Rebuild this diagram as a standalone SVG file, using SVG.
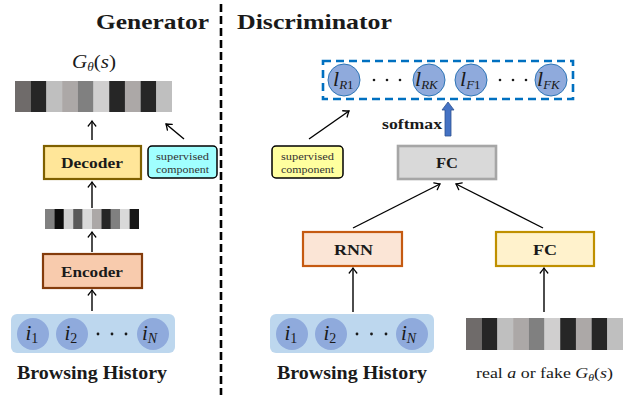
<svg xmlns="http://www.w3.org/2000/svg" width="636" height="395" viewBox="0 0 636 395" font-family="'Liberation Serif', 'DejaVu Serif', serif">
<style>
text{font-family:"Liberation Serif","DejaVu Serif",serif;fill:#1a1a1a}
.b{font-weight:bold}
.t{font-size:22px;font-weight:bold}
.lab{font-size:15px;font-weight:bold;text-anchor:middle}
.sm{font-size:10.5px;text-anchor:middle;fill:#333}
.mi{font-style:italic}
.cir{fill:#8faadc}
.cl{fill:#8faadc;stroke:#2e75b6;stroke-width:1}
.con line{stroke:#000;stroke-width:1.4;fill:none}
.dot{fill:#1a1a1a}
</style>
<defs>
<marker id="ah" markerUnits="userSpaceOnUse" markerWidth="12" markerHeight="12" viewBox="-6 -6 12 12" refX="0" refY="0" orient="auto" overflow="visible">
<path d="M-5,-3.8 Q-1.5,-1 0,0 Q-1.5,1 -5,3.8" fill="none" stroke="#000" stroke-width="1.3" stroke-linecap="round"/>
</marker>
</defs>

<!-- separator -->
<line x1="221" y1="4" x2="221" y2="395" stroke="#000" stroke-width="2.6" stroke-dasharray="8,4"/>

<text class="t" x="96" y="29" textLength="113" lengthAdjust="spacingAndGlyphs">Generator</text>
<text class="t" x="237" y="29" textLength="155" lengthAdjust="spacingAndGlyphs">Discriminator</text>

<!-- Generator output -->
<g id="gen-output">
<text x="72" y="68" font-size="19" textLength="44" lengthAdjust="spacingAndGlyphs"><tspan class="mi">G</tspan><tspan class="mi" font-size="12" dy="3">θ</tspan><tspan dy="-3">(</tspan><tspan class="mi">s</tspan><tspan>)</tspan></text>
<rect x="15" y="81" width="15.8" height="31" fill="#6f6b6a"/>
<rect x="30.7" y="81" width="15.8" height="31" fill="#262626"/>
<rect x="46.4" y="81" width="15.8" height="31" fill="#bfbfbf"/>
<rect x="62.1" y="81" width="15.8" height="31" fill="#aca8a7"/>
<rect x="77.8" y="81" width="15.8" height="31" fill="#808080"/>
<rect x="93.5" y="81" width="15.8" height="31" fill="#d0cfcf"/>
<rect x="109.2" y="81" width="15.8" height="31" fill="#262626"/>
<rect x="124.9" y="81" width="15.8" height="31" fill="#aca8a7"/>
<rect x="140.6" y="81" width="15.8" height="31" fill="#262626"/>
<rect x="156.3" y="81" width="15.7" height="31" fill="#bfbfbf"/>
</g>

<g id="decoder">
<rect x="44" y="146" width="97" height="33" fill="#ffe699" stroke="#7f6000" stroke-width="2.2"/>
<text class="lab" x="92" y="167.5" textLength="62" lengthAdjust="spacingAndGlyphs">Decoder</text>
</g>

<g id="gen-supervised">
<rect x="148" y="146" width="69" height="32" rx="4" fill="#a0ffff" stroke="#000" stroke-width="1.5"/>
<text class="sm" x="182.5" y="160" textLength="53" lengthAdjust="spacingAndGlyphs">supervised</text>
<text class="sm" x="182.5" y="173" textLength="53" lengthAdjust="spacingAndGlyphs">component</text>
</g>

<g id="latent">
<rect x="45" y="209" width="9.5" height="20" fill="#808080"/>
<rect x="54.4" y="209" width="9.5" height="20" fill="#0d0d0d"/>
<rect x="63.8" y="209" width="9.5" height="20" fill="#d0d0d0"/>
<rect x="73.2" y="209" width="9.5" height="20" fill="#595959"/>
<rect x="82.6" y="209" width="9.5" height="20" fill="#d9d9d9"/>
<rect x="92" y="209" width="9.5" height="20" fill="#aca8a7"/>
<rect x="101.4" y="209" width="9.5" height="20" fill="#262626"/>
<rect x="110.8" y="209" width="9.5" height="20" fill="#808080"/>
<rect x="120.2" y="209" width="9.5" height="20" fill="#d9d9d9"/>
<rect x="129.6" y="209" width="9.4" height="20" fill="#171717"/>
</g>

<g id="encoder">
<rect x="43" y="254" width="99" height="34" fill="#f8cbad" stroke="#843c0c" stroke-width="2.2"/>
<text class="lab" x="92" y="276.5" textLength="62" lengthAdjust="spacingAndGlyphs">Encoder</text>
</g>

<g id="gen-history">
<rect x="11" y="314" width="164" height="39" rx="6" fill="#bdd7ee"/>
<circle class="cir" cx="33" cy="334" r="16"/>
<circle class="cir" cx="72" cy="334" r="16"/>
<circle class="cir" cx="153" cy="334" r="16"/>
<text x="25.5" y="340" font-size="21"><tspan class="mi">i</tspan><tspan font-size="14" dy="3">1</tspan></text>
<text x="64.5" y="340" font-size="21"><tspan class="mi">i</tspan><tspan font-size="14" dy="3">2</tspan></text>
<text x="142" y="340" font-size="21"><tspan class="mi">i</tspan><tspan class="mi" font-size="14" dy="3">N</tspan></text>
<circle class="dot" cx="98" cy="334" r="1.4"/>
<circle class="dot" cx="112" cy="334" r="1.4"/>
<circle class="dot" cx="126" cy="334" r="1.4"/>
<text class="b" x="17" y="379" font-size="18" textLength="150" lengthAdjust="spacingAndGlyphs">Browsing History</text>
</g>

<!-- Discriminator -->
<g id="outputs">
<rect x="323" y="61" width="250" height="38" fill="none" stroke="#0070c0" stroke-width="2.6" stroke-dasharray="8,5"/>
<circle class="cl" cx="344" cy="80" r="16"/>
<circle class="cl" cx="429" cy="80" r="16"/>
<circle class="cl" cx="471" cy="80" r="16"/>
<circle class="cl" cx="551" cy="80" r="16"/>
<text x="333" y="86" font-size="22"><tspan class="mi">l</tspan><tspan font-size="13" dy="3"><tspan class="mi">R</tspan>1</tspan></text>
<text x="415" y="86" font-size="22"><tspan class="mi">l</tspan><tspan class="mi" font-size="13" dy="3">RK</tspan></text>
<text x="460" y="86" font-size="22"><tspan class="mi">l</tspan><tspan font-size="13" dy="3"><tspan class="mi">F</tspan>1</tspan></text>
<text x="537" y="86" font-size="22"><tspan class="mi">l</tspan><tspan class="mi" font-size="13" dy="3">FK</tspan></text>
<circle class="dot" cx="374" cy="80" r="1.3"/>
<circle class="dot" cx="387" cy="80" r="1.3"/>
<circle class="dot" cx="400" cy="80" r="1.3"/>
<circle class="dot" cx="500" cy="80" r="1.3"/>
<circle class="dot" cx="513" cy="80" r="1.3"/>
<circle class="dot" cx="526" cy="80" r="1.3"/>
</g>

<g id="softmax">
<path d="M445,136 L445,110 L442,110 L448,102 L454,110 L451,110 L451,136 Z" fill="#4472c4" stroke="#2f528f" stroke-width="0.8"/>
<text class="b" x="382" y="129" font-size="14" textLength="60" lengthAdjust="spacingAndGlyphs">softmax</text>
</g>

<g id="dis-supervised">
<rect x="272" y="146" width="71" height="32" rx="4" fill="#ffff9f" stroke="#000" stroke-width="1.5"/>
<text class="sm" x="307.5" y="160" textLength="53" lengthAdjust="spacingAndGlyphs">supervised</text>
<text class="sm" x="307.5" y="173" textLength="53" lengthAdjust="spacingAndGlyphs">component</text>
</g>

<g id="fc-top">
<rect x="398" y="146" width="98" height="33" fill="#d9d9d9" stroke="#a6a6a6" stroke-width="2.6"/>
<text class="lab" x="447" y="168" textLength="22" lengthAdjust="spacingAndGlyphs">FC</text>
</g>

<g id="rnn">
<rect x="303" y="232" width="99" height="34" fill="#fbe5d6" stroke="#c55a11" stroke-width="2.2"/>
<text class="lab" x="353.5" y="254.5" textLength="39" lengthAdjust="spacingAndGlyphs">RNN</text>
</g>

<g id="fc-input">
<rect x="496" y="232" width="98" height="34" fill="#fff2cc" stroke="#bf9000" stroke-width="2.2"/>
<text class="lab" x="545" y="254.5" textLength="24" lengthAdjust="spacingAndGlyphs">FC</text>
</g>

<g id="dis-history">
<rect x="270" y="314" width="164" height="39" rx="6" fill="#bdd7ee"/>
<circle class="cir" cx="292" cy="334" r="16"/>
<circle class="cir" cx="331" cy="334" r="16"/>
<circle class="cir" cx="412" cy="334" r="16"/>
<text x="284.5" y="340" font-size="21"><tspan class="mi">i</tspan><tspan font-size="14" dy="3">1</tspan></text>
<text x="323.5" y="340" font-size="21"><tspan class="mi">i</tspan><tspan font-size="14" dy="3">2</tspan></text>
<text x="401" y="340" font-size="21"><tspan class="mi">i</tspan><tspan class="mi" font-size="14" dy="3">N</tspan></text>
<circle class="dot" cx="357" cy="334" r="1.4"/>
<circle class="dot" cx="371.5" cy="334" r="1.4"/>
<circle class="dot" cx="386" cy="334" r="1.4"/>
<text class="b" x="277" y="379" font-size="18" textLength="150" lengthAdjust="spacingAndGlyphs">Browsing History</text>
</g>

<g id="real-fake">
<rect x="466" y="318" width="15.8" height="32" fill="#6f6b6a"/>
<rect x="481.7" y="318" width="15.8" height="32" fill="#262626"/>
<rect x="497.4" y="318" width="15.8" height="32" fill="#bfbfbf"/>
<rect x="513.1" y="318" width="15.8" height="32" fill="#aca8a7"/>
<rect x="528.8" y="318" width="15.8" height="32" fill="#808080"/>
<rect x="544.5" y="318" width="15.8" height="32" fill="#d0cfcf"/>
<rect x="560.2" y="318" width="15.8" height="32" fill="#262626"/>
<rect x="575.9" y="318" width="15.8" height="32" fill="#aca8a7"/>
<rect x="591.6" y="318" width="15.8" height="32" fill="#262626"/>
<rect x="607.3" y="318" width="15.7" height="32" fill="#bfbfbf"/>
<text x="476" y="378" font-size="15" textLength="137" lengthAdjust="spacingAndGlyphs">real <tspan class="mi">a</tspan> or fake <tspan class="mi">G</tspan><tspan class="mi" font-size="10" dy="3">θ</tspan><tspan dy="-3">(</tspan><tspan class="mi">s</tspan>)</text>
</g>

<g class="con" id="connectors">
<line x1="92" y1="140" x2="92" y2="121" marker-end="url(#ah)"/>
<line x1="92" y1="208" x2="92" y2="182" marker-end="url(#ah)"/>
<line x1="92" y1="252" x2="92" y2="232" marker-end="url(#ah)"/>
<line x1="92" y1="311" x2="92" y2="290" marker-end="url(#ah)"/>
<line x1="184" y1="139" x2="166" y2="124" marker-end="url(#ah)"/>
<line x1="309" y1="139" x2="349" y2="111" marker-end="url(#ah)"/>
<line x1="353" y1="228" x2="440" y2="184" marker-end="url(#ah)"/>
<line x1="543" y1="228" x2="456" y2="184" marker-end="url(#ah)"/>
<line x1="353" y1="312" x2="353" y2="268" marker-end="url(#ah)"/>
<line x1="544" y1="312" x2="544" y2="268" marker-end="url(#ah)"/>
</g>
</svg>
